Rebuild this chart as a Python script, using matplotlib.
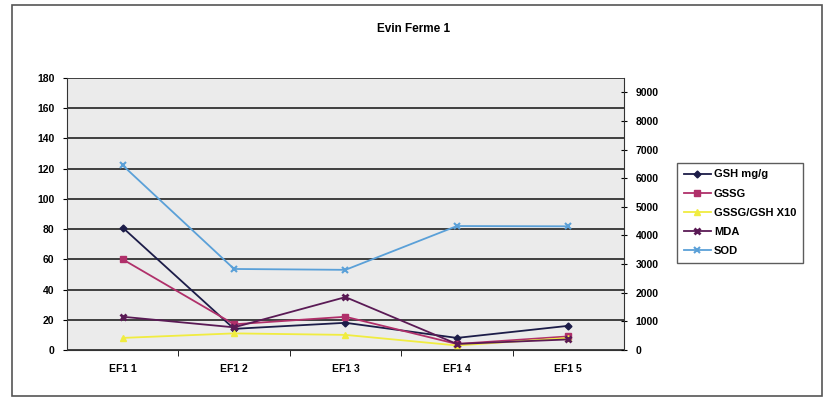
import matplotlib.pyplot as plt
from matplotlib.patches import Rectangle

plt.rcParams['font.family'] = ['Liberation Sans', 'DejaVu Sans']

samples = ['EF1 1', 'EF1 2', 'EF1 3', 'EF1 4', 'EF1 5']
gsh = [81, 14, 18, 8, 16]
gssg = [60, 17, 22, 4, 9]
ratio_x10 = [8, 11, 10, 3, 8]
mda = [22, 15, 35, 4, 7]
sod = [6450, 2830, 2800, 4330, 4320]

fig = plt.figure(figsize=(8.28, 3.98), dpi=100)
fig.patches.append(Rectangle((12/828, 2/398), 810/828, 391/398, transform=fig.transFigure,
                             fill=False, edgecolor='#555555', linewidth=1.2))
fig.text(0.499, 0.928, 'Evin Ferme 1', ha='center', va='center', fontsize=8.5, fontweight='bold')

ax = fig.add_axes([0.0809, 0.1206, 0.6727, 0.6834])
ax.set_facecolor('#ebebeb')
x = range(len(samples))

l1, = ax.plot(x, gsh, '-D', color='#1c1c48', ms=3.5, lw=1.3, label='GSH mg/g')
l2, = ax.plot(x, gssg, '-s', color='#b0306a', ms=4, lw=1.3, label='GSSG')
l3, = ax.plot(x, ratio_x10, '-^', color='#f0ec40', ms=4.5, lw=1.3, label='GSSG/GSH X10')
l4, = ax.plot(x, mda, '-x', color='#5a1a55', ms=5, mew=2, lw=1.3, label='MDA')

ax.set_xlim(-0.5, 4.5)
ax.set_ylim(0, 180)
ax.set_yticks(range(0, 181, 20))
ax.set_xticks(list(x))
ax.set_xticklabels(samples)
ax.set_xticks([0.5, 1.5, 2.5, 3.5], minor=True)
ax.tick_params(axis='x', which='major', length=0, pad=10)
ax.tick_params(axis='x', which='minor', length=4)
ax.tick_params(axis='y', length=3, pad=6)
ax.tick_params(labelsize=7.5)
for lab in ax.get_xticklabels() + ax.get_yticklabels():
    lab.set_fontweight('bold')
ax.yaxis.grid(True, color='#222222', linewidth=1.2)
ax.set_axisbelow(True)
for side in ['top', 'right']:
    ax.spines[side].set_visible(False)
ax.spines['left'].set_color('#333333')
ax.spines['bottom'].set_color('#333333')

ax2 = ax.twinx()
l5, = ax2.plot(x, sod, '-x', color='#5aa0d8', ms=5, mew=1.5, lw=1.3, label='SOD')
ax2.set_ylim(0, 9500)
ax2.set_yticks(range(0, 9001, 1000))
ax2.tick_params(axis='y', direction='inout', length=5, labelsize=7.5, pad=6)
for lab in ax2.get_yticklabels():
    lab.set_fontweight('bold')
for side in ['top', 'left', 'bottom']:
    ax2.spines[side].set_visible(False)
ax2.spines['right'].set_color('#333333')

leg = fig.legend(handles=[l1, l2, l3, l4, l5], loc='upper left',
                 bbox_to_anchor=(0.818, 0.591), frameon=True,
                 fancybox=False, edgecolor='#333333', handlelength=2.4,
                 borderpad=0.6, labelspacing=0.82, handletextpad=0.3,
                 borderaxespad=0, prop={'weight': 'bold', 'size': 8})
leg.get_frame().set_linewidth(1.0)

fig.savefig('out.png', dpi=100)
